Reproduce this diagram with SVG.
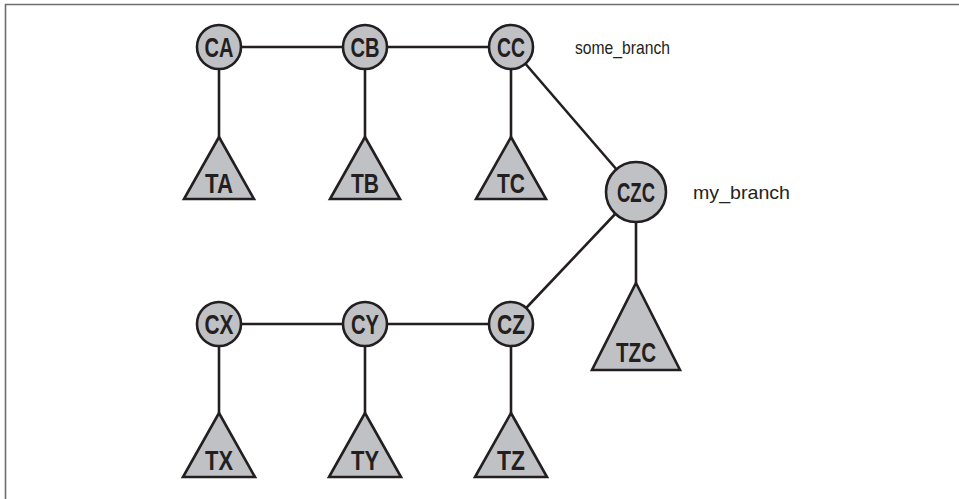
<svg xmlns="http://www.w3.org/2000/svg" width="959" height="499" viewBox="0 0 959 499">
<style>
.n{fill:#c0c1c5;stroke:#231f20;stroke-width:2.6}
.e{stroke:#231f20;stroke-width:2.6;fill:none}
.l{font-family:"Liberation Sans",Arial,sans-serif;font-weight:bold;font-size:28px;fill:#231f20;text-anchor:middle}
.b{font-family:"Liberation Sans",Arial,sans-serif;font-size:19px;fill:#231f20}
.f{stroke:#6d6e70;stroke-width:1.6;fill:none}
</style>
<path class="f" d="M5.5 499V4.5H959"/>
<g id="connectors">
<line class="e" x1="219" y1="47" x2="511" y2="47"/>
<line class="e" x1="219" y1="47" x2="219" y2="137"/>
<line class="e" x1="365" y1="47" x2="365" y2="137"/>
<line class="e" x1="511" y1="47" x2="511" y2="137"/>
<line class="e" x1="511" y1="47" x2="636" y2="192"/>
<line class="e" x1="636" y1="192" x2="511" y2="324"/>
<line class="e" x1="636" y1="192" x2="636" y2="283"/>
<line class="e" x1="219" y1="324" x2="511" y2="324"/>
<line class="e" x1="219" y1="324" x2="219" y2="413"/>
<line class="e" x1="365" y1="324" x2="365" y2="413"/>
<line class="e" x1="511" y1="324" x2="511" y2="413"/>
</g>
<g id="CA"><circle class="n" cx="219" cy="47" r="22"/><text class="l" x="219" y="57" textLength="29" lengthAdjust="spacingAndGlyphs">CA</text></g>
<g id="CB"><circle class="n" cx="365" cy="47" r="22"/><text class="l" x="365" y="57" textLength="29" lengthAdjust="spacingAndGlyphs">CB</text></g>
<g id="CC"><circle class="n" cx="511" cy="47" r="22"/><text class="l" x="511" y="57" textLength="28" lengthAdjust="spacingAndGlyphs">CC</text></g>
<g id="TA"><path class="n" d="M219 137L254 199H184Z"/><text class="l" x="219" y="193" textLength="28" lengthAdjust="spacingAndGlyphs">TA</text></g>
<g id="TB"><path class="n" d="M365 137L400 199H330Z"/><text class="l" x="365" y="193" textLength="28" lengthAdjust="spacingAndGlyphs">TB</text></g>
<g id="TC"><path class="n" d="M511 137L546 199H476Z"/><text class="l" x="511" y="193" textLength="28" lengthAdjust="spacingAndGlyphs">TC</text></g>
<g id="CZC"><circle class="n" cx="636" cy="192" r="30"/><text class="l" x="636" y="202" textLength="38" lengthAdjust="spacingAndGlyphs">CZC</text></g>
<g id="TZC"><path class="n" d="M636 283L680 370H592Z"/><text class="l" x="636" y="362" textLength="40" lengthAdjust="spacingAndGlyphs">TZC</text></g>
<g id="CX"><circle class="n" cx="219" cy="324" r="22"/><text class="l" x="219" y="334" textLength="29" lengthAdjust="spacingAndGlyphs">CX</text></g>
<g id="CY"><circle class="n" cx="365" cy="324" r="22"/><text class="l" x="365" y="334" textLength="28" lengthAdjust="spacingAndGlyphs">CY</text></g>
<g id="CZ"><circle class="n" cx="511" cy="324" r="22"/><text class="l" x="511" y="334" textLength="28" lengthAdjust="spacingAndGlyphs">CZ</text></g>
<g id="TX"><path class="n" d="M219 413L255 477H183Z"/><text class="l" x="219" y="470" textLength="28" lengthAdjust="spacingAndGlyphs">TX</text></g>
<g id="TY"><path class="n" d="M365 413L401 477H329Z"/><text class="l" x="365" y="470" textLength="28" lengthAdjust="spacingAndGlyphs">TY</text></g>
<g id="TZ"><path class="n" d="M511 413L547 477H475Z"/><text class="l" x="511" y="470" textLength="28" lengthAdjust="spacingAndGlyphs">TZ</text></g>
<text class="b" x="575" y="54" textLength="95" lengthAdjust="spacingAndGlyphs">some_branch</text>
<text class="b" x="693" y="199" textLength="97" lengthAdjust="spacingAndGlyphs">my_branch</text>
</svg>
